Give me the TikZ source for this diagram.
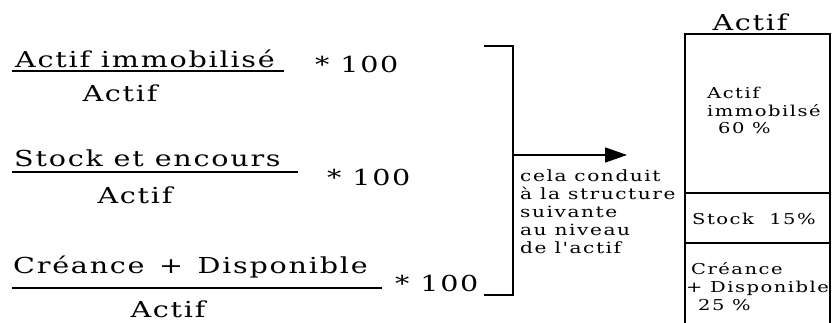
\documentclass[tikz,border=0pt]{standalone}
\usepackage{fontspec}
\setmainfont{DejaVu Serif}
\newfontfamily\bigfam[FakeStretch=1.3,LetterSpace=8]{DejaVu Serif}
\newfontfamily\smallfam[FakeStretch=1.3,LetterSpace=10]{DejaVu Serif}
\usetikzlibrary{arrows.meta}
\begin{document}
\begin{tikzpicture}[x=1pt,y=-1pt,
  big/.style={font=\bigfam\fontsize{22}{24}\selectfont, inner sep=0pt},
  small/.style={font=\smallfam\fontsize{15.5}{18}\selectfont, inner sep=0pt},
  boxt/.style={font=\smallfam\fontsize{15}{18}\selectfont, inner sep=0pt},
  rule/.style={line width=1.6pt},
  every node/.style={inner sep=0pt}]
\useasboundingbox (0,0) rectangle (832,322);
% fraction 1
\node[big, anchor=base west] (n1) at (15,67) {Actif immobilisé};
\draw[rule] (12,71) -- (284,71);
\node[big, anchor=base] (d1) at (120,101) {Actif};
\node[big, anchor=base west] (m1) at (315,72) {* 100};
% fraction 2
\node[big, anchor=base west] (n2) at (14,166) {Stock et encours};
\draw[rule] (12,172) -- (298,172);
\node[big, anchor=base] (d2) at (135,203) {Actif};
\node[big, anchor=base west] (m2) at (327,185) {* 100};
% fraction 3
\node[big, anchor=base west] (n3) at (13,273) {Créance \,+\, Disponible};
\draw[rule] (12,288) -- (382,288);
\node[big, anchor=base] (d3) at (168,317) {Actif};
\node[big, anchor=base west] (m3) at (395,291) {* 100};
% bracket
\coordinate (bt) at (484,46);
\coordinate (bb) at (484,295);
\coordinate (bm) at (513,155);
\draw[rule] (bt) -- (513,46) -- (513,295) -- (bb);
\coordinate (at) at (627,155);
\draw[rule, -{Triangle[length=22pt,width=15pt]}] (bm) -- (at);
\node[small, anchor=base west, align=left] (txt) at (520,253)
  {cela conduit\\à la structure\\suivante\\au niveau\\de l'actif};
% right box
\draw[rule] (685,340) -- (685,34) -- (830,34) -- (830,340);
\draw[rule] (685,193) -- (830,193);
\draw[rule] (685,243) -- (830,243);
\node[big, anchor=base] (title) at (750,30) {Actif};
\node[boxt, anchor=base west] (b1a) at (707,98) {Actif};
\node[boxt, anchor=base west] (b1b) at (707,116) {immobilsé};
\node[boxt, anchor=base west] (b1c) at (718,133) {60 \%};
\node[boxt, anchor=base west] (b2) at (692,224) {Stock \ 15\%};
\node[boxt, anchor=base west] (b3a) at (691,274) {Créance};
\node[boxt, anchor=base west] (b3b) at (686,292) {+ Disponible};
\node[boxt, anchor=base west] (b3c) at (698,310) {25 \%};
\end{tikzpicture}
\end{document}
